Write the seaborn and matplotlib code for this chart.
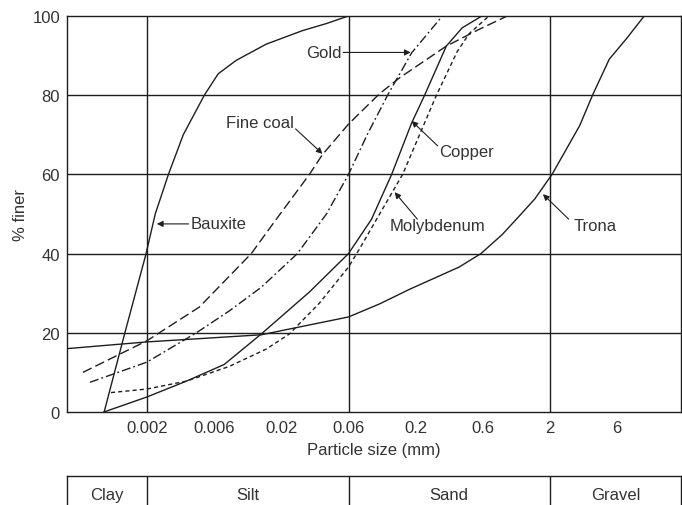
import numpy as np
import pandas as pd
import matplotlib
matplotlib.use("Agg")
import matplotlib.pyplot as plt
from matplotlib.ticker import NullLocator
import seaborn as sns

# ---------------- data (particle size in mm, % finer) ----------------
bauxite_x = [0.00096, 0.00137, 0.00197, 0.00229, 0.00284, 0.00362, 0.00511,
             0.00645, 0.00891, 0.01528, 0.02822, 0.04184, 0.06]
bauxite_y = [0, 20, 40, 50, 60, 70, 80, 85.4, 88.8, 92.9, 96.3, 98.1, 100]

finecoal_x = [0.000667, 0.001155, 0.002, 0.00471, 0.01167, 0.01764, 0.03166,
              0.03918, 0.06, 0.1048, 0.150, 0.330, 0.562, 0.929]
finecoal_y = [10, 14, 18, 26.5, 40, 48, 60, 65, 72.7, 80.4, 84.4, 92.4, 96.6, 100]

gold_x = [0.000753, 0.002, 0.004486, 0.007853, 0.01396, 0.026, 0.04183, 0.06,
          0.0844, 0.1209, 0.1861, 0.3094]
gold_y = [7.5, 12.6, 20, 25.5, 31.5, 40, 50, 60, 70.2, 80, 90.7, 100]

copper_x = [0.000957, 0.002, 0.003817, 0.007184, 0.01396, 0.03166, 0.06,
            0.09073, 0.130, 0.1861, 0.2315, 0.330, 0.4275, 0.590]
copper_y = [0, 3.8, 7.8, 12, 19.7, 30.3, 40, 48.7, 60, 73, 80, 92.4, 97, 100]

molyb_x = [0.001079, 0.002, 0.003817, 0.007853, 0.01528, 0.0228, 0.0373, 0.06,
           0.0731, 0.1048, 0.1583, 0.2808, 0.3943, 0.4785, 0.6696]
molyb_y = [4.9, 5.8, 7.8, 11.5, 15.9, 19.7, 27.5, 36.6, 41.2, 50, 60, 80, 91,
           95.5, 100]

trona_x = [0.000508, 0.002, 0.01396, 0.06, 0.1048, 0.1795, 0.407, 0.581, 0.848,
           1.095, 1.521, 2.066, 3.246, 4.006, 5.27, 7.0, 9.53]
trona_y = [16, 17.7, 19.5, 24, 27.3, 31, 36.6, 40, 44.8, 48.7, 53.8, 60, 72.3,
           80, 89.1, 94.2, 100]

tick_vals = [0.002, 0.006, 0.02, 0.06, 0.2, 0.6, 2, 6]
tick_labels = ["0.002", "0.006", "0.02", "0.06", "0.2", "0.6", "2", "6"]
y_ticks = [0, 20, 40, 60, 80, 100]
boundaries = [0.002, 0.06, 2]
soil_classes = ["Clay", "Silt", "Sand", "Gravel"]

series = [
    ("Bauxite", bauxite_x, bauxite_y, "-"),
    ("Fine coal", finecoal_x, finecoal_y, (0, (7, 3))),
    ("Gold", gold_x, gold_y, (0, (6.5, 2.2, 1.3, 2.2))),
    ("Copper", copper_x, copper_y, "-"),
    ("Molybdenum", molyb_x, molyb_y, (0, (3, 2.2))),
    ("Trona", trona_x, trona_y, "-"),
]

# label text position, arrow tip, text alignment, arrow start (relpos)
labels = [
    ("Bauxite", (0.0041, 47.5), (0.00235, 47.5), "left", (-0.04, 0.5)),
    ("Gold", (0.0537, 90.8), (0.183, 90.8), "right", (1.04, 0.5)),
    ("Fine coal", (0.01372, 73.0), (0.0392, 65.2), "center", (1.02, 0.1)),
    ("Copper", (0.456, 65.7), (0.186, 73.5), "center", (-0.02, 0.9)),
    ("Molybdenum", (0.2854, 47.0), (0.1372, 55.5), "center", (0.29, 0.95)),
    ("Trona", (4.2, 47.0), (1.761, 55.0), "center", (-0.12, 0.95)),
]

# ---------------- scale: log axis with equally spaced labelled ticks ----------------
_L = np.log10(tick_vals)
_P = np.arange(len(tick_vals), dtype=float)


def fwd(x):
    l = np.log10(np.clip(np.asarray(x, dtype=float), 1e-12, None))
    u = np.interp(l, _L, _P)
    u = np.where(l < _L[0], (l - _L[0]) * 2.0, u)
    u = np.where(l > _L[-1], _P[-1] + (l - _L[-1]) * 2.0, u)
    return u


def inv(u):
    u = np.asarray(u, dtype=float)
    l = np.interp(u, _P, _L)
    l = np.where(u < 0, _L[0] + u / 2.0, l)
    l = np.where(u > _P[-1], _L[-1] + (u - _P[-1]) / 2.0, l)
    return 10 ** l


# ---------------- style ----------------
sns.set_theme(style="white")
plt.rcParams["font.family"] = ["Liberation Sans", "DejaVu Sans"]
TXT = "#333333"
LN = "#1e1e1e"
FS = 12

W, H = 682, 506
fig = plt.figure(figsize=(W / 100, H / 100), dpi=100)
ax = fig.add_axes([67 / W, (H - 413) / H, (681 - 67) / W, (413 - 17) / H])
ax.set_xscale("function", functions=(fwd, inv))
ax.set_xlim(0.000508, 17.9)
ax.set_ylim(0, 100)

# grid
for yv in y_ticks[1:-1]:
    ax.axhline(yv, color=LN, lw=1.0, zorder=1)
for xv in boundaries:
    ax.axvline(xv, color=LN, lw=1.0, zorder=1)

# curves
for name, xs, ys, ls in series:
    sns.lineplot(x=xs, y=ys, ax=ax, color=LN, linewidth=1.0, linestyle=ls,
                 estimator=None, sort=False, zorder=3)

# annotations
for text, xyt, xy, ha, relpos in labels:
    ax.annotate(text, xy=xy, xytext=xyt, ha=ha, va="center", fontsize=FS,
                color=TXT, zorder=4,
                arrowprops=dict(arrowstyle="-|>", color=LN, lw=0.8,
                                mutation_scale=9, shrinkA=0, shrinkB=0,
                                patchA=None, relpos=relpos))

# axes styling
ax.set_xticks(tick_vals)
ax.set_xticklabels(tick_labels)
ax.xaxis.set_minor_locator(NullLocator())
ax.set_yticks(y_ticks)
ax.tick_params(axis="x", direction="in", length=8, width=1.0, color=LN,
               labelsize=FS, labelcolor=TXT, pad=6)
ax.tick_params(axis="y", length=0, labelsize=FS, labelcolor=TXT, pad=5)
for sp in ax.spines.values():
    sp.set_color(LN)
    sp.set_linewidth(1.0)
    sp.set_visible(True)
ax.set_xlabel("Particle size (mm)", fontsize=FS, color=TXT, labelpad=5)
ax.set_ylabel("% finer", fontsize=FS, color=TXT)
ax.yaxis.set_label_coords(-0.064, 0.5)
ax.grid(False)

# soil classification strip
tab = fig.add_axes([67 / W, -0.05, (681 - 67) / W, (H - 477) / H + 0.05], sharex=ax)
tab.set_ylim(0, 1)
for xv in boundaries:
    tab.axvline(xv, color=LN, lw=1.0)
edges = [ax.get_xlim()[0]] + boundaries + [ax.get_xlim()[1]]
for i, name in enumerate(soil_classes):
    mid = float(inv((fwd(edges[i]) + fwd(edges[i + 1])) / 2.0))
    tab.text(mid, 0.668, name, ha="center", va="center", fontsize=FS, color=TXT)
tab.tick_params(bottom=False, labelbottom=False, left=False, labelleft=False)
for sp in tab.spines.values():
    sp.set_color(LN)
    sp.set_linewidth(1.0)
tab.grid(False)

fig.savefig("out.png", dpi=100)
